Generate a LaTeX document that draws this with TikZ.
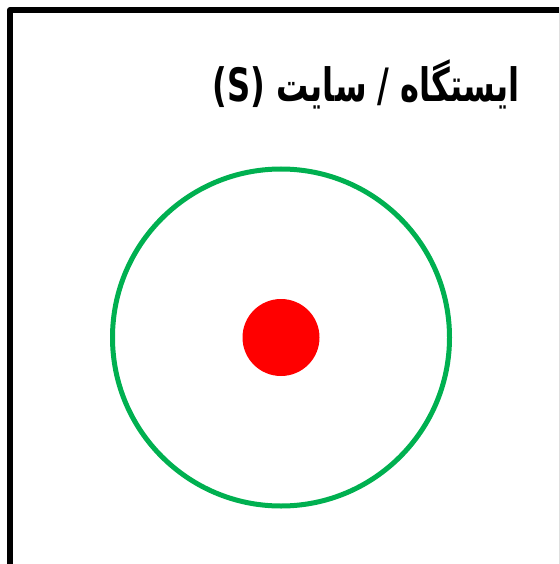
\documentclass[tikz,border=0pt]{standalone}
\usepackage{fontspec}
\newfontfamily\arabicfont[Script=Arabic]{DejaVu Sans}
\TeXXeTstate=1
\definecolor{ringgreen}{HTML}{00B050}

\begin{document}
\begin{tikzpicture}[x=1pt, y=-1pt,
                    frame/.style={line width=6pt, line join=round},
                    ring/.style={circle, draw=ringgreen, line width=5pt,
                                 minimum size=337pt, inner sep=0pt},
                    dot/.style={circle, fill=red, minimum size=77pt, inner sep=0pt},
                    titletext/.style={font=\arabicfont\bfseries\fontsize{46}{50}\selectfont,
                                      inner sep=0pt}]
  \clip (0,0) rectangle (559,564);
  \draw[frame] (10,10) rectangle (562,600);
  \node[ring] (ring) at (281,337.5) {};
  \node[dot] (site) at (ring.center) {};
  \node[titletext, anchor=base east] (title) at (520,102)
    {\scalebox{0.7}[1]{\beginR ایستگاه / سایت \beginL(S)\endL\endR}};
\end{tikzpicture}
\end{document}
